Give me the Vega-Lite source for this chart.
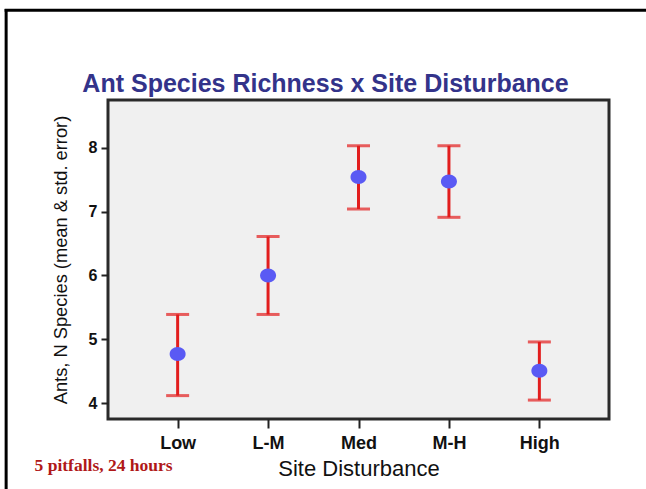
{
  "$schema": "https://vega.github.io/schema/vega-lite/v6.json",
  "width": 501,
  "height": 319,
  "autosize": {"type": "none"},
  "padding": {"left": 108, "top": 100, "right": 37, "bottom": 70},
  "background": "white",
  "config": {
    "view": {"fill": "#f0f0f0", "stroke": "#2a2a2a", "strokeWidth": 3},
    "axis": {
      "labelFont": "Liberation Sans",
      "titleFont": "Liberation Sans",
      "labelColor": "#111",
      "titleColor": "#111",
      "tickColor": "#222",
      "grid": false,
      "domain": false
    }
  },
  "data": {
    "values": [
      {"site": "Low", "mean": 4.77, "lower": 4.12, "upper": 5.39},
      {"site": "L-M", "mean": 6.0, "lower": 5.39, "upper": 6.61},
      {"site": "Med", "mean": 7.54, "lower": 7.04, "upper": 8.03},
      {"site": "M-H", "mean": 7.47, "lower": 6.91, "upper": 8.03},
      {"site": "High", "mean": 4.51, "lower": 4.05, "upper": 4.96}
    ]
  },
  "encoding": {
    "x": {
      "field": "site",
      "type": "nominal",
      "sort": ["Low", "L-M", "Med", "M-H", "High"],
      "scale": {"type": "point", "padding": 0.77, "domain": ["Low", "L-M", "Med", "M-H", "High"]},
      "axis": {
        "title": "Site Disturbance",
        "labelAngle": 0,
        "labelFontSize": 18,
        "labelFontWeight": "bold",
        "labelPadding": 6,
        "tickSize": 9,
        "tickWidth": 2,
        "titleFontSize": 22,
        "titleFontWeight": "normal",
        "titlePadding": 6
      }
    }
  },
  "layer": [
    {
      "mark": {"type": "rule", "color": "#e21d1d", "strokeWidth": 3},
      "encoding": {
        "y": {
          "field": "lower",
          "type": "quantitative",
          "scale": {"domain": [3.754, 8.746], "nice": false, "zero": false},
          "axis": {
            "title": "Ants, N Species (mean & std. error)",
            "values": [4, 5, 6, 7, 8],
            "format": "d",
            "labelFontSize": 16,
            "labelFontWeight": "bold",
            "labelPadding": 4,
            "tickSize": 7,
            "tickWidth": 2,
            "titleFontSize": 18.3,
            "titleFontWeight": "normal",
            "titlePadding": 18
          }
        },
        "y2": {"field": "upper"}
      }
    },
    {
      "mark": {"type": "tick", "color": "#e21d1d", "thickness": 3, "size": 23, "orient": "horizontal"},
      "encoding": {"y": {"field": "upper", "type": "quantitative"}}
    },
    {
      "mark": {"type": "tick", "color": "#e21d1d", "thickness": 3, "size": 23, "orient": "horizontal"},
      "encoding": {"y": {"field": "lower", "type": "quantitative"}}
    },
    {
      "mark": {
        "type": "point",
        "shape": "M -1 0 A 1 0.875 0 1 0 1 0 A 1 0.875 0 1 0 -1 0 Z",
        "filled": true,
        "color": "#5a5af4",
        "opacity": 1,
        "size": 256
      },
      "encoding": {"y": {"field": "mean", "type": "quantitative"}}
    },
    {
      "data": {"values": [{"heading": "Ant Species Richness x Site Disturbance", "site": "Med", "pos": 8.87}]},
      "mark": {
        "type": "text",
        "font": "Liberation Sans",
        "fontWeight": "bold",
        "fontSize": 25,
        "color": "#33338a",
        "align": "center",
        "baseline": "alphabetic",
        "dx": -33
      },
      "encoding": {
        "y": {"field": "pos", "type": "quantitative"},
        "text": {"field": "heading"}
      }
    },
    {
      "data": {"values": [{"note": "5 pitfalls, 24 hours", "site": "Low", "pos": 2.94}]},
      "mark": {
        "type": "text",
        "font": "Liberation Serif",
        "fontWeight": "bold",
        "fontSize": 17.5,
        "color": "#b01818",
        "align": "right",
        "baseline": "alphabetic",
        "dx": -5
      },
      "encoding": {
        "y": {"field": "pos", "type": "quantitative"},
        "text": {"field": "note"}
      }
    },
    {
      "data": {"values": [{"site": "Low", "to": "High", "edge": 10.15}]},
      "mark": {"type": "rule", "color": "#000", "strokeWidth": 3, "xOffset": -173, "x2Offset": 110},
      "encoding": {
        "x2": {"field": "to"},
        "y": {"field": "edge", "type": "quantitative"}
      }
    },
    {
      "data": {"values": [{"site": "Low", "top": 10.17, "bottom": 1.0}]},
      "mark": {"type": "rule", "color": "#000", "strokeWidth": 3, "xOffset": -171.5},
      "encoding": {
        "y": {"field": "top", "type": "quantitative"},
        "y2": {"field": "bottom"}
      }
    }
  ]
}
